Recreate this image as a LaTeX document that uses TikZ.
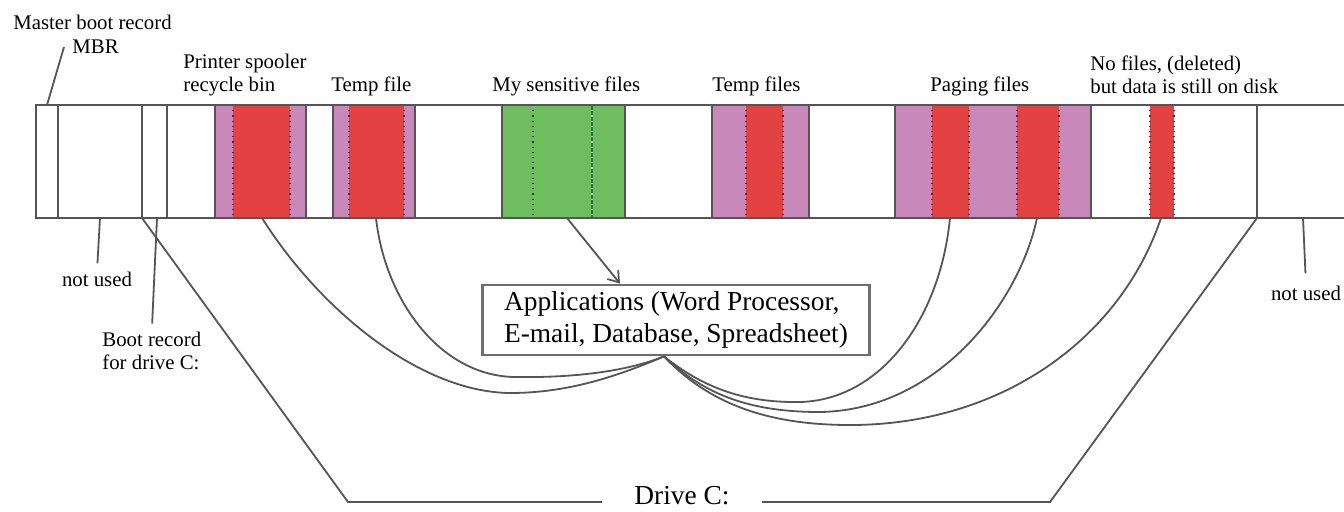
\documentclass[tikz,border=0pt]{standalone}
\usepackage{fontspec}
\setmainfont{Liberation Serif}
\usetikzlibrary{arrows.meta}

\definecolor{filered}{RGB}{226,66,66}
\definecolor{filepurple}{RGB}{200,136,186}
\definecolor{filegreen}{RGB}{110,190,96}
\definecolor{darkgreen}{RGB}{40,120,60}
\definecolor{seamdark}{RGB}{80,40,60}
\definecolor{linegray}{RGB}{85,85,85}
\definecolor{boxgray}{RGB}{110,110,110}

\begin{document}
\begin{tikzpicture}[x = 0.5pt, y = -0.5pt,
		lbl/.style = {font=\fontsize{10.4}{11.6}\selectfont, align=left, inner sep=0pt},
		big/.style = {font=\fontsize{13.7}{16}\selectfont},
		leader/.style = {draw=linegray, line width=0.9pt},
		divider/.style = {draw=linegray, line width=1.1pt},
		seam/.style = {draw=seamdark, dotted, line width=0.6pt}]
		
		\useasboundingbox (0, 0) rectangle (1344, 511);
		
		% file blocks on the disk
		\fill[filepurple] (215, 105) rectangle (233, 218);
		\fill[filered] (233, 105) rectangle (290, 218);
		\fill[filepurple] (290, 105) rectangle (306, 218);
		
		\fill[filepurple] (333, 105) rectangle (349, 218);
		\fill[filered] (349, 105) rectangle (404, 218);
		\fill[filepurple] (404, 105) rectangle (415, 218);
		
		\fill[filegreen] (502, 105) rectangle (625, 218);
		
		\fill[filepurple] (712, 105) rectangle (746, 218);
		\fill[filered] (746, 105) rectangle (783, 218);
		\fill[filepurple] (783, 105) rectangle (809, 218);
		
		\fill[filepurple] (895, 105) rectangle (932, 218);
		\fill[filered] (932, 105) rectangle (969, 218);
		\fill[filepurple] (969, 105) rectangle (1017, 218);
		\fill[filered] (1017, 105) rectangle (1059, 218);
		\fill[filepurple] (1059, 105) rectangle (1091, 218);
		
		\fill[filered] (1150, 105) rectangle (1174, 218);
		
		% seams inside the blocks
		\draw[seam] (233, 105) -- (233, 218);
		\draw[seam] (290, 105) -- (290, 218);
		\draw[seam] (349, 105) -- (349, 218);
		\draw[seam] (404, 105) -- (404, 218);
		\draw[seam] (746, 105) -- (746, 218);
		\draw[seam] (783, 105) -- (783, 218);
		\draw[seam] (932, 105) -- (932, 218);
		\draw[seam] (969, 105) -- (969, 218);
		\draw[seam] (1017, 105) -- (1017, 218);
		\draw[seam] (1059, 105) -- (1059, 218);
		\draw[seam] (1150, 105) -- (1150, 218);
		\draw[seam] (1174, 105) -- (1174, 218);
		\draw[seam] (533, 105) -- (533, 218);
		\draw[draw=darkgreen, line width=1pt] (592, 105) -- (592, 218);
		\draw[seam, draw=filegreen!60!white] (592, 105) -- (592, 218);
		
		% dividers
		\draw[divider] (58, 105) -- (58, 218);
		\draw[divider] (142, 105) -- (142, 218);
		\draw[divider] (167, 105) -- (167, 218);
		\draw[divider] (215, 105) -- (215, 218);
		\draw[divider] (306, 105) -- (306, 218);
		\draw[divider] (333, 105) -- (333, 218);
		\draw[divider] (415, 105) -- (415, 218);
		\draw[divider] (502, 105) -- (502, 218);
		\draw[divider] (625, 105) -- (625, 218);
		\draw[divider] (712, 105) -- (712, 218);
		\draw[divider] (809, 105) -- (809, 218);
		\draw[divider] (895, 105) -- (895, 218);
		\draw[divider] (1091, 105) -- (1091, 218);
		\draw[divider] (1257, 105) -- (1257, 218);
		
		% disk outline
		\draw[linegray, line width=1.3pt] (1344, 105) -- (36, 105) -- (36, 218) -- (1344, 218);
		
		% labels above
		\node[lbl, anchor=west] (mbrtext) at (13, 22) {Master boot record};
		\node[lbl, anchor=west] (mbr) at (72, 47) {MBR};
		\node[lbl, anchor=west] (spooler) at (183, 75) {Printer spooler\\recycle bin};
		\node[lbl, anchor=west] (temp1) at (331, 86) {Temp file};
		\node[lbl, anchor=west] (sensitive) at (492, 86) {My sensitive files};
		\node[lbl, anchor=west] (temp2) at (712, 86) {Temp files};
		\node[lbl, anchor=west] (paging) at (930, 86) {Paging files};
		\node[lbl, anchor=west] (deleted) at (1090, 75) {No files, (deleted)\\but data is still on disk};
		
		% labels below
		\node[lbl] (unusedL) at (97, 279) {not used};
		\node[lbl, anchor=west] (bootrec) at (102, 351) {Boot record\\for drive C:};
		\node[lbl] (unusedR) at (1306, 293) {not used};
		
		\node[big, draw=boxgray, line width=1.3pt, align=left, minimum width=193.5pt,
			minimum height=34pt, inner xsep=8pt] (app) at (676, 320)
			{Applications (Word Processor,\\E-mail, Database, Spreadsheet)};
		\node[big, inner xsep=16pt, inner ysep=0pt] (drive) at (682, 496) {Drive C:};
		
		% end points on the disk
		\coordinate (mbrcell) at (47, 105);
		\coordinate (unused1) at (100, 218);
		\coordinate (bootC) at (157, 218);
		\coordinate (startC) at (142, 218);
		\coordinate (spool) at (262, 218);
		\coordinate (tmp) at (376, 218);
		\coordinate (mine) at (567, 218);
		\coordinate (page1) at (950, 218);
		\coordinate (page2) at (1037, 218);
		\coordinate (gone) at (1161, 218);
		\coordinate (endC) at (1257, 218);
		\coordinate (unused2) at (1303, 218);
		\coordinate (cornerL) at (348, 502);
		\coordinate (cornerR) at (1050, 502);
		\coordinate (hub) at ([xshift=-6pt]app.south);
		
		% leaders
		\draw[leader] ([xshift=-4pt]mbr.west) -- (mbrcell);
		\draw[leader, shorten >=4pt] (unused1) -- (unusedL.north);
		\draw[leader, shorten >=4pt] (bootC) -- (bootrec.north);
		\draw[leader, shorten >=6pt] (unused2) -- (unusedR.north);
		
		% drive C
		\draw[leader] (startC) -- (cornerL) -- (cornerL -| drive.west);
		\draw[leader] (cornerR -| drive.east) -- (cornerR) -- (endC);
		
		% sensitive files into the applications
		\draw[leader, -{Straight Barb[length=5pt, width=7pt]}] (mine) -- ([xshift=-28pt]app.north);
		
		% applications to their files
		\draw[leader] (hub) .. controls (620, 375) and (570, 393) .. (510, 393)
			.. controls (420, 392) and (320, 310) .. (spool);
		\draw[leader] (hub) .. controls (630, 370) and (580, 378) .. (515, 377)
			.. controls (440, 376) and (385, 300) .. (tmp);
		\draw[leader] (hub) .. controls (700, 385) and (740, 403) .. (800, 402)
			.. controls (880, 400) and (940, 320) .. (page1);
		\draw[leader] (hub) .. controls (705, 395) and (750, 412) .. (820, 412)
			.. controls (940, 410) and (1020, 300) .. (page2);
		\draw[leader] (hub) .. controls (710, 405) and (770, 425) .. (850, 425)
			.. controls (1000, 425) and (1120, 340) .. (gone);
		
	\end{tikzpicture}
\end{document}
